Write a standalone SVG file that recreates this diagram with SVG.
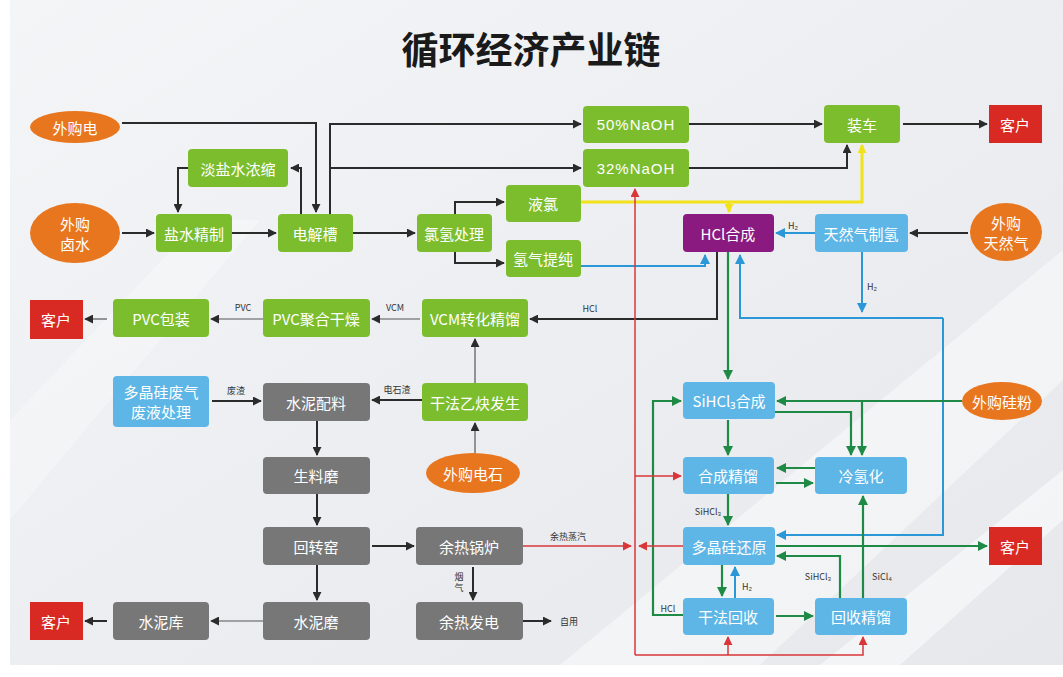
<svg xmlns="http://www.w3.org/2000/svg" width="1063" height="677" viewBox="0 0 1063 677">
<defs>
<linearGradient id="bg" x1="0" y1="0" x2="1" y2="1">
<stop offset="0" stop-color="#f4f5f7"/>
<stop offset="0.5" stop-color="#eceef1"/>
<stop offset="1" stop-color="#e6e8eb"/>
</linearGradient>
<marker id="ak" viewBox="0 0 10 10" refX="9" refY="5" markerWidth="9" markerHeight="9" markerUnits="userSpaceOnUse" orient="auto"><path d="M0,0 L10,5 L0,10 z" fill="#2b2b2b"/></marker>
<marker id="ag" viewBox="0 0 10 10" refX="9" refY="5" markerWidth="10" markerHeight="10" markerUnits="userSpaceOnUse" orient="auto"><path d="M0,0 L10,5 L0,10 z" fill="#1f8a45"/></marker>
<marker id="ab" viewBox="0 0 10 10" refX="9" refY="5" markerWidth="10" markerHeight="10" markerUnits="userSpaceOnUse" orient="auto"><path d="M0,0 L10,5 L0,10 z" fill="#2a97d6"/></marker>
<marker id="ar" viewBox="0 0 10 10" refX="9" refY="5" markerWidth="9" markerHeight="9" markerUnits="userSpaceOnUse" orient="auto"><path d="M0,0 L10,5 L0,10 z" fill="#d9363a"/></marker>
<marker id="ay" viewBox="0 0 10 10" refX="9" refY="5" markerWidth="9" markerHeight="9" markerUnits="userSpaceOnUse" orient="auto"><path d="M0,0 L10,5 L0,10 z" fill="#f2e21a"/></marker>
</defs>
<style>
.t{font-family:"Noto Sans CJK SC","Noto Sans",sans-serif;fill:#fff;font-size:15px;text-anchor:middle;dominant-baseline:central}
.g rect{fill:#7cbd2e}
.b rect{fill:#5db6e6}
.y rect{fill:#777777}
.r rect{fill:#d82a22}
.o ellipse{fill:#e8761f}
.lb{font-family:"Noto Sans CJK SC","Liberation Sans",sans-serif;fill:#333;font-size:9px;text-anchor:middle}
.k{fill:none;stroke:#2b2b2b;stroke-width:2}
.kt{fill:none;stroke:#555;stroke-width:1.2}
.gr{fill:none;stroke:#1f8a45;stroke-width:2.2}
.bl{fill:none;stroke:#2a97d6;stroke-width:2}
.rd{fill:none;stroke:#d9363a;stroke-width:1.5}
.ye{fill:none;stroke:#f2e21a;stroke-width:3}
</style>
<rect width="1063" height="677" fill="#ffffff"/>
<rect x="10" y="0" width="1053" height="665" fill="url(#bg)"/>
<polygon points="560,665 760,665 1063,380 1063,250" fill="#ffffff" opacity="0.45"/>
<polygon points="820,665 900,665 1063,520 1063,470" fill="#ffffff" opacity="0.5"/>
<polygon points="10,420 10,520 260,220 200,220" fill="#ffffff" opacity="0.3"/>
<text x="531" y="64" style="font-family:'Noto Sans CJK SC',sans-serif;font-size:37px;font-weight:bold;fill:#1a1a1a;text-anchor:middle">循环经济产业链</text>

<g id="connectors">
<path class="k" d="M122,123 H316 V212" marker-end="url(#ak)"/>
<path class="k" d="M188,168 H178 V212" marker-end="url(#ak)"/>
<path class="k" d="M301,214 V168 H291" marker-end="url(#ak)"/>
<path class="k" d="M330,214 V124 H581" marker-end="url(#ak)"/>
<path class="k" d="M330,168 H581" marker-end="url(#ak)"/>
<path class="k" d="M122,233 H154" marker-end="url(#ak)"/>
<path class="k" d="M232,233 H276" marker-end="url(#ak)"/>
<path class="k" d="M353,233 H415" marker-end="url(#ak)"/>
<path class="k" d="M455,214 V202 H504" marker-end="url(#ak)"/>
<path class="k" d="M455,252 V263 H504" marker-end="url(#ak)"/>
<path class="k" d="M689,124 H822" marker-end="url(#ak)"/>
<path class="k" d="M689,168 H847 V145" marker-end="url(#ak)"/>
<path class="k" d="M903,124 H987" marker-end="url(#ak)"/>
<path class="k" d="M968,233 H910" marker-end="url(#ak)"/>
<path class="ye" d="M581,202 H862 V145" marker-end="url(#ay)"/>
<path class="ye" d="M729,202 V212" marker-end="url(#ay)"/>
<path class="bl" d="M815,233 H776" marker-end="url(#ab)"/>
<path class="bl" d="M862,252 V312" marker-end="url(#ab)"/>
<path class="bl" d="M943,318 H740 V255" marker-end="url(#ab)"/>
<path class="bl" d="M943,318 V535 H777" marker-end="url(#ab)"/>
<path class="bl" d="M581,266 H705 V255" marker-end="url(#ab)"/>
<path class="k" d="M717,252 V319 H530" marker-end="url(#ak)"/>
<path class="kt" d="M420,319 H372" marker-end="url(#ak)"/>
<path class="kt" d="M263,319 H211" marker-end="url(#ak)"/>
<path class="kt" d="M107,319 H85" marker-end="url(#ak)"/>
<path class="kt" d="M475,383 V339" marker-end="url(#ak)"/>
<path class="kt" d="M475,453 V423" marker-end="url(#ak)"/>
<path class="k" d="M422,400 H372" marker-end="url(#ak)"/>
<path class="k" d="M212,401 H261" marker-end="url(#ak)"/>
<path class="k" d="M317,421 V455" marker-end="url(#ak)"/>
<path class="k" d="M317,494 V525" marker-end="url(#ak)"/>
<path class="k" d="M317,565 V600" marker-end="url(#ak)"/>
<path class="kt" d="M263,621 H211" marker-end="url(#ak)"/>
<path class="k" d="M107,621 H85" marker-end="url(#ak)"/>
<path class="k" d="M372,546 H414" marker-end="url(#ak)"/>
<path class="k" d="M473,567 V600" marker-end="url(#ak)"/>
<path class="k" d="M523,621 H551" marker-end="url(#ak)"/>
<path class="gr" d="M728,252 V379" marker-end="url(#ag)"/>
<path class="gr" d="M962,401 H777" marker-end="url(#ag)"/>
<path class="gr" d="M862,401 V455" marker-end="url(#ag)"/>
<path class="gr" d="M775,412 H851 V455" marker-end="url(#ag)"/>
<path class="gr" d="M728,420 V455" marker-end="url(#ag)"/>
<path class="gr" d="M815,468 H777" marker-end="url(#ag)"/>
<path class="gr" d="M776,483 H813" marker-end="url(#ag)"/>
<path class="gr" d="M728,494 V525" marker-end="url(#ag)"/>
<path class="gr" d="M776,546 H987" marker-end="url(#ag)"/>
<path class="gr" d="M840,598 V556 H777" marker-end="url(#ag)"/>
<path class="gr" d="M863,598 V496" marker-end="url(#ag)"/>
<path class="gr" d="M722,565 V596" marker-end="url(#ag)"/>
<path class="bl" d="M735,598 V567" marker-end="url(#ab)"/>
<path class="gr" d="M776,616 H813" marker-end="url(#ag)"/>
<path class="gr" d="M683,615 H653 V401 H681" marker-end="url(#ag)"/>
<path class="rd" d="M635,655 V189" marker-end="url(#ar)"/>
<path class="rd" d="M635,655 H863 V637" marker-end="url(#ar)"/>
<path class="rd" d="M728,655 V637" marker-end="url(#ar)"/>
<path class="rd" d="M635,476 H681" marker-end="url(#ar)"/>
<path class="rd" d="M523,546 H631" marker-end="url(#ar)"/>
<path class="rd" d="M683,546 H639" marker-end="url(#ar)"/>
<text class="lb" x="793" y="229">H₂</text>
<text class="lb" x="872" y="290">H₂</text>
<text class="lb" x="590" y="312">HCl</text>
<text class="lb" x="395" y="311">VCM</text>
<text class="lb" x="243" y="311">PVC</text>
<text class="lb" x="397" y="393">电石渣</text>
<text class="lb" x="236" y="394">废渣</text>
<text class="lb" x="568" y="540">余热蒸汽</text>
<text class="lb" x="459" y="580">烟</text>
<text class="lb" x="459" y="591">气</text>
<text class="lb" x="569" y="625">自用</text>
<text class="lb" x="708" y="515">SiHCl₃</text>
<text class="lb" x="747" y="590">H₂</text>
<text class="lb" x="818" y="580">SiHCl₃</text>
<text class="lb" x="882" y="580">SiCl₄</text>
<text class="lb" x="668" y="612">HCl</text>
</g>

<g id="n-waigoudian" class="o"><ellipse cx="75" cy="127" rx="45" ry="16"/><text class="t" x="75" y="127">外购电</text></g>
<g id="n-waigouclushui" class="o"><ellipse cx="75" cy="233" rx="45" ry="30"/><text class="t" x="75" y="223">外购</text><text class="t" x="75" y="243">卤水</text></g>
<g id="n-danyanshui" class="g"><rect x="188" y="149" width="100" height="38" rx="4"/><text class="t" x="238" y="168">淡盐水浓缩</text></g>
<g id="n-yanshui" class="g"><rect x="156" y="214" width="76" height="38" rx="4"/><text class="t" x="194" y="233">盐水精制</text></g>
<g id="n-dianjiecao" class="g"><rect x="278" y="214" width="75" height="38" rx="4"/><text class="t" x="315" y="233">电解槽</text></g>
<g id="n-lvqing" class="g"><rect x="417" y="214" width="75" height="38" rx="4"/><text class="t" x="454" y="233">氯氢处理</text></g>
<g id="n-yelv" class="g"><rect x="506" y="185" width="75" height="37" rx="4"/><text class="t" x="543" y="203">液氯</text></g>
<g id="n-qingqi" class="g"><rect x="506" y="240" width="75" height="37" rx="4"/><text class="t" x="543" y="258">氢气提纯</text></g>
<g id="n-naoh50" class="g"><rect x="583" y="106" width="106" height="37" rx="4"/><text class="t" x="636" y="124" style="font-family:'Liberation Sans',sans-serif;letter-spacing:1px">50%NaOH</text></g>
<g id="n-naoh32" class="g"><rect x="583" y="149" width="106" height="38" rx="4"/><text class="t" x="636" y="168" style="font-family:'Liberation Sans',sans-serif;letter-spacing:1px">32%NaOH</text></g>
<g id="n-zhuangche" class="g"><rect x="824" y="105" width="76" height="38" rx="4"/><text class="t" x="862" y="124">装车</text></g>
<g id="n-kehu1" class="r"><rect x="989" y="105" width="53" height="38"/><text class="t" x="1015" y="124">客户</text></g>
<g id="n-hcl"><rect x="683" y="214" width="91" height="38" rx="4" fill="#8b1a80"/><text class="t" x="728" y="233">HCl合成</text></g>
<g id="n-tianranqizhiqing" class="b"><rect x="815" y="214" width="93" height="38" rx="4"/><text class="t" x="861" y="233">天然气制氢</text></g>
<g id="n-waigoutianranqi" class="o"><ellipse cx="1006" cy="232" rx="36" ry="29"/><text class="t" x="1006" y="222">外购</text><text class="t" x="1006" y="242">天然气</text></g>
<g id="n-kehu2" class="r"><rect x="30" y="300" width="53" height="39"/><text class="t" x="56" y="319">客户</text></g>
<g id="n-pvcbaozhuang" class="g"><rect x="113" y="299" width="96" height="38" rx="4"/><text class="t" x="161" y="318">PVC包装</text></g>
<g id="n-pvcjuhe" class="g"><rect x="263" y="299" width="107" height="38" rx="4"/><text class="t" x="316" y="318">PVC聚合干燥</text></g>
<g id="n-vcm" class="g"><rect x="422" y="299" width="106" height="38" rx="4"/><text class="t" x="475" y="318">VCM转化精馏</text></g>
<g id="n-yique" class="g"><rect x="422" y="383" width="106" height="38" rx="4"/><text class="t" x="475" y="402">干法乙炔发生</text></g>
<g id="n-waigoudianshi" class="o"><ellipse cx="473" cy="473" rx="47" ry="20"/><text class="t" x="473" y="473">外购电石</text></g>
<g id="n-feiqi" class="b"><rect x="113" y="376" width="96" height="51" rx="4"/><text class="t" x="161" y="391">多晶硅废气</text><text class="t" x="161" y="411">废液处理</text></g>
<g id="n-shuinipeiliao" class="y"><rect x="263" y="383" width="107" height="38" rx="4"/><text class="t" x="316" y="402">水泥配料</text></g>
<g id="n-shengliaomo" class="y"><rect x="263" y="457" width="107" height="37" rx="4"/><text class="t" x="316" y="475">生料磨</text></g>
<g id="n-huizhuanyao" class="y"><rect x="263" y="527" width="107" height="38" rx="4"/><text class="t" x="316" y="546">回转窑</text></g>
<g id="n-shuinimo" class="y"><rect x="263" y="602" width="107" height="38" rx="4"/><text class="t" x="316" y="621">水泥磨</text></g>
<g id="n-shuiniku" class="y"><rect x="113" y="602" width="96" height="38" rx="4"/><text class="t" x="161" y="621">水泥库</text></g>
<g id="n-kehu3" class="r"><rect x="30" y="602" width="53" height="38"/><text class="t" x="56" y="621">客户</text></g>
<g id="n-yureguolu" class="y"><rect x="416" y="527" width="107" height="38" rx="4"/><text class="t" x="469" y="546">余热锅炉</text></g>
<g id="n-yurefadian" class="y"><rect x="416" y="602" width="107" height="38" rx="4"/><text class="t" x="469" y="621">余热发电</text></g>
<g id="n-sihcl3" class="b"><rect x="683" y="382" width="92" height="37" rx="4"/><text class="t" x="729" y="400">SiHCl₃合成</text></g>
<g id="n-waigouguifen" class="o"><ellipse cx="1002" cy="401" rx="40" ry="19"/><text class="t" x="1002" y="401">外购硅粉</text></g>
<g id="n-hechengjingliu" class="b"><rect x="683" y="457" width="91" height="37" rx="4"/><text class="t" x="728" y="475">合成精馏</text></g>
<g id="n-lengqinghua" class="b"><rect x="815" y="457" width="92" height="37" rx="4"/><text class="t" x="861" y="475">冷氢化</text></g>
<g id="n-duojinggui" class="b"><rect x="683" y="527" width="92" height="38" rx="4"/><text class="t" x="729" y="546">多晶硅还原</text></g>
<g id="n-kehu4" class="r"><rect x="989" y="527" width="53" height="38"/><text class="t" x="1015" y="546">客户</text></g>
<g id="n-ganfahuishou" class="b"><rect x="683" y="598" width="91" height="37" rx="4"/><text class="t" x="728" y="616">干法回收</text></g>
<g id="n-huishoujingliu" class="b"><rect x="815" y="598" width="92" height="37" rx="4"/><text class="t" x="861" y="616">回收精馏</text></g>
</svg>
